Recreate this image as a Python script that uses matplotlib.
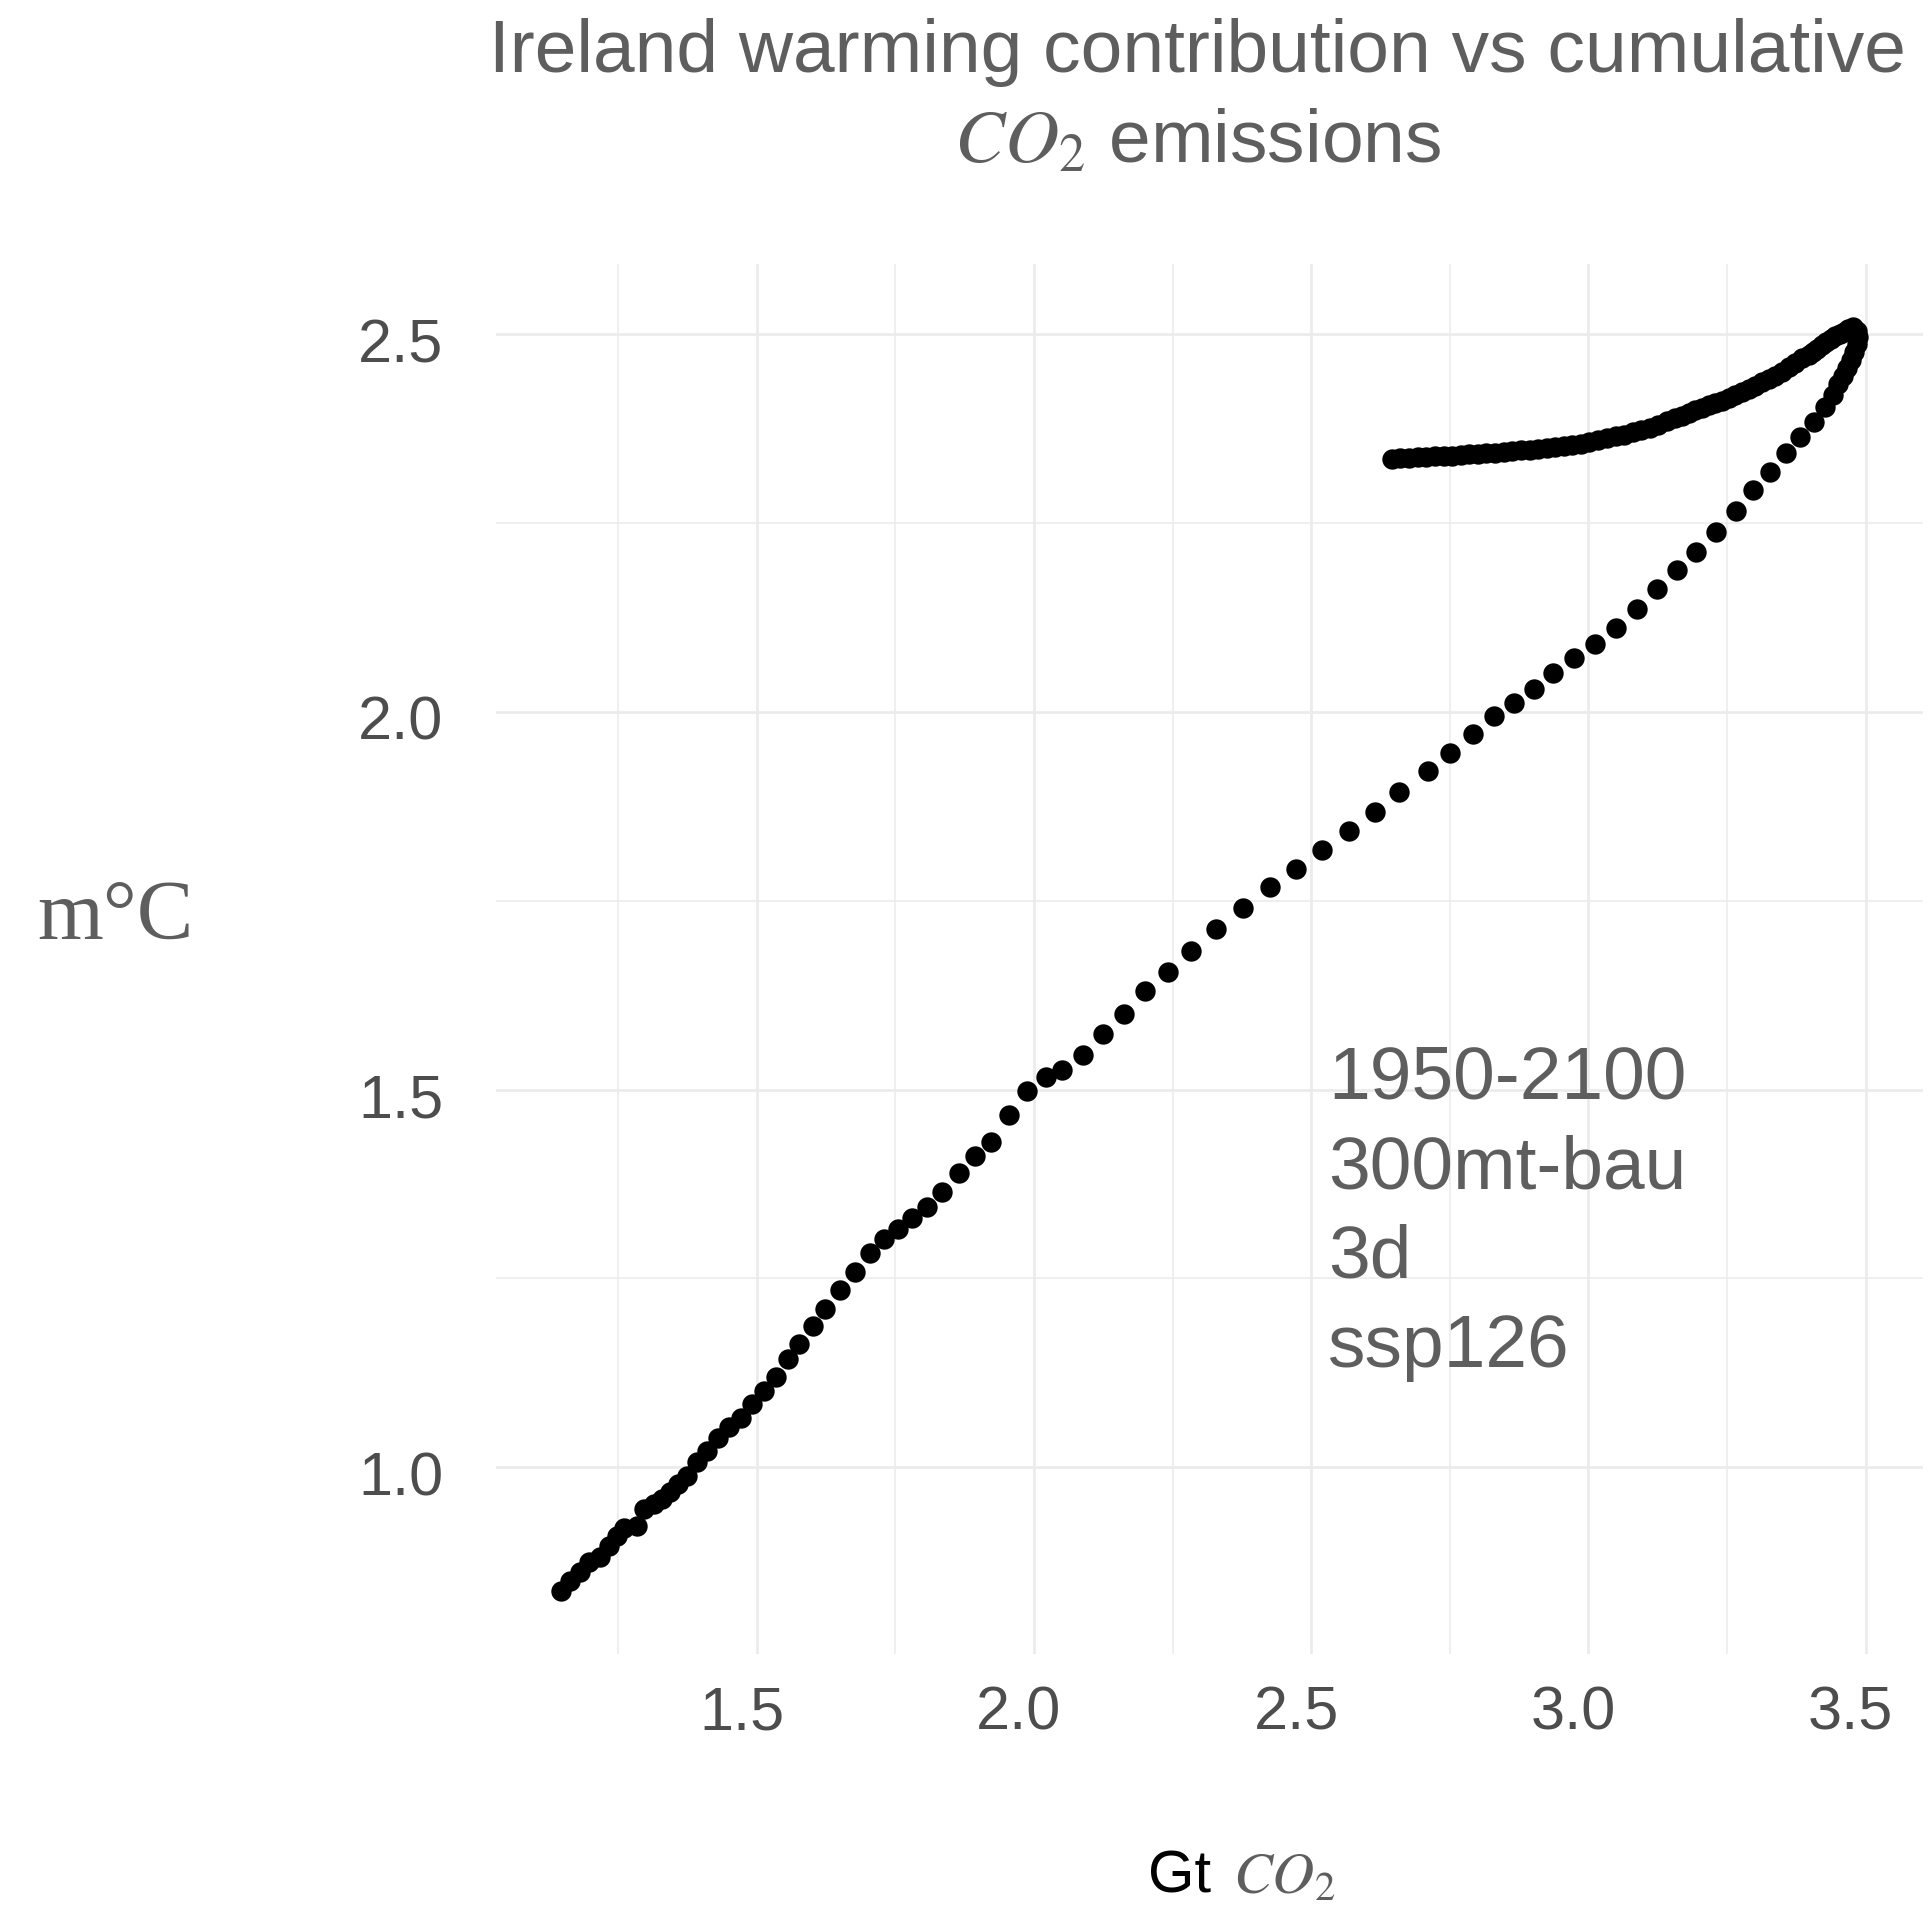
import matplotlib
matplotlib.use("Agg")
import matplotlib.pyplot as plt
from matplotlib.ticker import MultipleLocator, FormatStrFormatter
from matplotlib.transforms import ScaledTranslation

plt.rcParams['font.family'] = ['Liberation Sans', 'DejaVu Sans']
plt.rcParams['mathtext.fontset'] = 'stix'

# Cumulative CO2 emissions (Gt) and warming contribution (m°C), 1950-2100
cum_co2 = [
    1.147, 1.164, 1.181, 1.197, 1.217, 1.233, 1.248, 1.260, 1.284, 1.296,
    1.314, 1.329, 1.344, 1.359, 1.375, 1.393, 1.411, 1.430, 1.450, 1.471,
    1.492, 1.513, 1.535, 1.556, 1.577, 1.601, 1.624, 1.651, 1.677, 1.704,
    1.729, 1.755, 1.780, 1.807, 1.835, 1.865, 1.893, 1.923, 1.955, 1.988,
    2.021, 2.051, 2.089, 2.125, 2.163, 2.201, 2.241, 2.284, 2.329, 2.378,
    2.426, 2.473, 2.520, 2.568, 2.616, 2.659, 2.710, 2.751, 2.792, 2.829,
    2.866, 2.902, 2.936, 2.974, 3.012, 3.050, 3.088, 3.124, 3.159, 3.195,
    3.231, 3.266, 3.297, 3.327, 3.356, 3.382, 3.407, 3.427, 3.441, 3.450,
    3.459, 3.466, 3.473, 3.479, 3.484, 3.486, 3.484, 3.477,
    3.469, 3.461, 3.453, 3.445, 3.437, 3.429, 3.421, 3.413, 3.405, 3.397,
    3.385, 3.373, 3.361, 3.349, 3.337, 3.325, 3.313, 3.301, 3.289, 3.277,
    3.265, 3.253, 3.241, 3.229, 3.217, 3.205, 3.193, 3.181, 3.169, 3.157,
    3.142, 3.126, 3.111, 3.095, 3.080, 3.064, 3.049, 3.033, 3.018, 3.002,
    2.987, 2.971, 2.956, 2.940, 2.925, 2.909, 2.894, 2.878, 2.863, 2.847,
    2.832, 2.816, 2.801, 2.785, 2.770, 2.754, 2.739, 2.723, 2.708, 2.692,
    2.677, 2.661, 2.646,
]
warming = [
    0.836, 0.850, 0.862, 0.874, 0.881, 0.896, 0.909, 0.920, 0.922, 0.945,
    0.951, 0.958, 0.967, 0.978, 0.989, 1.007, 1.022, 1.039, 1.053, 1.065,
    1.084, 1.101, 1.120, 1.143, 1.163, 1.187, 1.210, 1.235, 1.259, 1.284,
    1.302, 1.315, 1.330, 1.344, 1.364, 1.389, 1.412, 1.431, 1.466, 1.498,
    1.516, 1.526, 1.546, 1.574, 1.600, 1.630, 1.655, 1.683, 1.712, 1.740,
    1.768, 1.792, 1.817, 1.842, 1.867, 1.894, 1.922, 1.946, 1.970, 1.994,
    2.012, 2.030, 2.051, 2.071, 2.090, 2.111, 2.136, 2.163, 2.188, 2.212,
    2.238, 2.266, 2.293, 2.318, 2.342, 2.364, 2.384, 2.403, 2.419, 2.434,
    2.445, 2.455, 2.465, 2.476, 2.487, 2.496, 2.504, 2.509,
    2.506, 2.503, 2.500, 2.497, 2.493, 2.489, 2.485, 2.480, 2.476, 2.472,
    2.468, 2.462, 2.456, 2.450, 2.445, 2.441, 2.436, 2.431, 2.427, 2.423,
    2.419, 2.415, 2.412, 2.409, 2.406, 2.402, 2.399, 2.395, 2.392, 2.389,
    2.385, 2.380, 2.376, 2.373, 2.370, 2.367, 2.365, 2.362, 2.360, 2.357,
    2.354, 2.353, 2.352, 2.350, 2.349, 2.348, 2.347, 2.346, 2.345, 2.344,
    2.343, 2.342, 2.341, 2.341, 2.340, 2.339, 2.339, 2.338, 2.337, 2.337,
    2.336, 2.336, 2.335,
]

x_ticks = [1.5, 2.0, 2.5, 3.0, 3.5]
y_ticks = [1.0, 1.5, 2.0, 2.5]
run_info = ["1950-2100", "300mt-bau", "3d", "ssp126"]

title_line1 = "Ireland warming contribution vs cumulative"
title_line2 = r"$CO_2$ emissions"

GRID = '#EBEBEB'
TEXT_GREY = '#5E5E5E'
TICK_GREY = '#4D4D4D'

fig = plt.figure(figsize=(19.31, 19.08), dpi=100)
ax = fig.add_axes([0.2569, 0.1324, 0.7388, 0.7287])

ax.scatter(cum_co2, warming, s=215, c='black', linewidths=0, zorder=3)

# 5% padding around the data range on both axes
xmin, xmax = min(cum_co2), max(cum_co2)
ymin, ymax = min(warming), max(warming)
xr, yr = xmax - xmin, ymax - ymin
ax.set_xlim(xmin - 0.05 * xr, xmax + 0.05 * xr)
ax.set_ylim(ymin - 0.05 * yr, ymax + 0.05 * yr)

ax.set_xticks(x_ticks)
ax.set_yticks(y_ticks)
ax.xaxis.set_minor_locator(MultipleLocator(0.25))
ax.yaxis.set_minor_locator(MultipleLocator(0.25))
ax.xaxis.set_major_formatter(FormatStrFormatter('%.1f'))
ax.yaxis.set_major_formatter(FormatStrFormatter('%.1f'))

ax.grid(which='major', color=GRID, linewidth=1.9)
ax.grid(which='minor', color=GRID, linewidth=1.1)
ax.set_axisbelow(True)
for s in ax.spines.values():
    s.set_visible(False)
ax.tick_params(which='both', length=0)
ax.tick_params(axis='x', pad=22, labelsize=44, labelcolor=TICK_GREY)
ax.tick_params(axis='y', pad=38, labelsize=44, labelcolor=TICK_GREY)

# Nudge tick labels slightly (left for x, down for y)
x_shift = ScaledTranslation(-0.15, 0, fig.dpi_scale_trans)
y_shift = ScaledTranslation(0, -0.05, fig.dpi_scale_trans)
for lab in ax.get_xticklabels():
    lab.set_transform(lab.get_transform() + x_shift)
for lab in ax.get_yticklabels():
    lab.set_transform(lab.get_transform() + y_shift)

# Scenario annotation inside the panel
line_step = 0.1185
for i, line in enumerate(run_info):
    ax.text(2.531, 1.489 - i * line_step, line, fontsize=54, color=TEXT_GREY,
            ha='left', va='baseline', zorder=4)

# Title
fig.text(0.620, 0.9623, title_line1, fontsize=54, color=TEXT_GREY,
         ha='center', va='baseline')
fig.text(0.620, 0.9151, title_line2, fontsize=54, color=TEXT_GREY,
         ha='center', va='baseline')

# Axis labels
fig.text(0.0192, 0.5082, "m°C", fontsize=61, color=TEXT_GREY,
         family=['Liberation Serif', 'DejaVu Serif'], ha='left', va='baseline')
fig.text(0.5945, 0.0079, "Gt", fontsize=43, color='black',
         ha='left', va='baseline')
fig.text(0.6385, 0.0079, r"$CO_2$", fontsize=42, color=TEXT_GREY,
         ha='left', va='baseline')

fig.savefig("out.png", dpi=100, facecolor='white')
